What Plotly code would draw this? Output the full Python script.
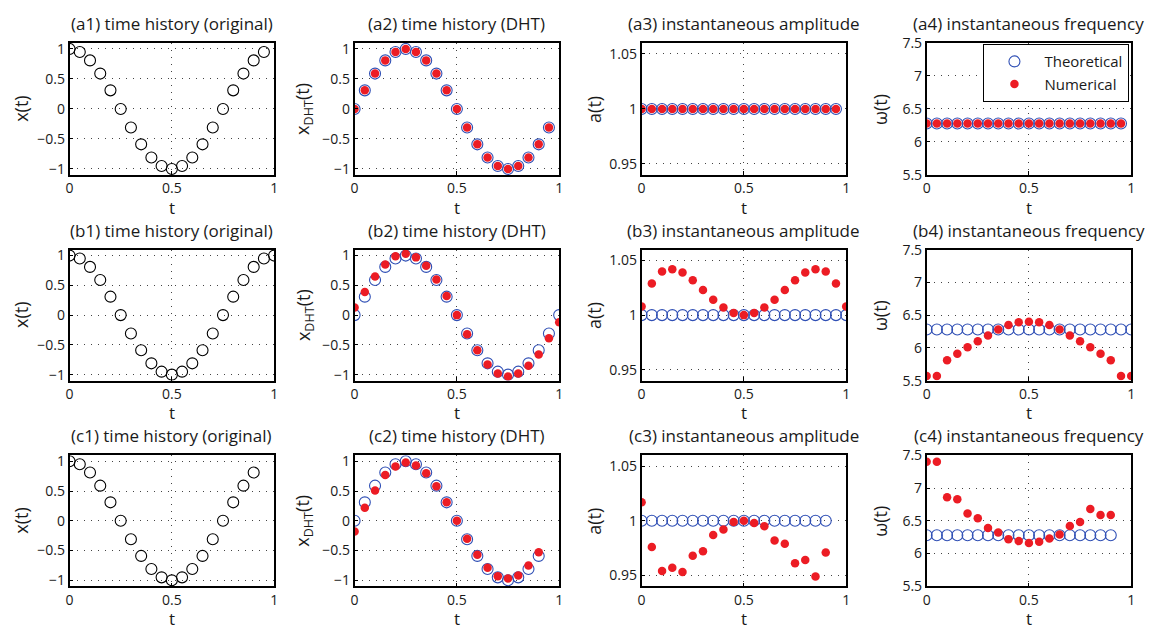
import plotly.graph_objects as go

# ---------------- data ----------------
t_a = [0, 0.05, 0.1, 0.15, 0.2, 0.25, 0.3, 0.35, 0.4, 0.45, 0.5, 0.55, 0.6, 0.65, 0.7, 0.75, 0.8, 0.85, 0.9, 0.95]
t_b = [0, 0.05, 0.1, 0.15, 0.2, 0.25, 0.3, 0.35, 0.4, 0.45, 0.5, 0.55, 0.6, 0.65, 0.7, 0.75, 0.8, 0.85, 0.9, 0.95, 1.0]
t_c = [0, 0.05, 0.1, 0.15, 0.2, 0.25, 0.3, 0.35, 0.4, 0.45, 0.5, 0.55, 0.6, 0.65, 0.7, 0.75, 0.8, 0.85, 0.9]

# original signals
x_a = [1, 0.95, 0.81, 0.59, 0.31, 0, -0.31, -0.59, -0.81, -0.95, -1, -0.95, -0.81, -0.59, -0.31, 0, 0.31, 0.59, 0.81, 0.95]
x_b = [1, 0.95, 0.81, 0.59, 0.31, 0, -0.31, -0.59, -0.81, -0.95, -1, -0.95, -0.81, -0.59, -0.31, 0, 0.31, 0.59, 0.81, 0.95, 1]
x_c = [1, 0.95, 0.81, 0.59, 0.31, 0, -0.31, -0.59, -0.81, -0.95, -1, -0.95, -0.81, -0.59, -0.31, 0, 0.31, 0.59, 0.81]

# DHT theoretical
h_a_th = [0, 0.31, 0.59, 0.81, 0.95, 1, 0.95, 0.81, 0.59, 0.31, 0, -0.31, -0.59, -0.81, -0.95, -1, -0.95, -0.81, -0.59, -0.31]
h_b_th = [0, 0.31, 0.59, 0.81, 0.95, 1, 0.95, 0.81, 0.59, 0.31, 0, -0.31, -0.59, -0.81, -0.95, -1, -0.95, -0.81, -0.59, -0.31, 0]
h_c_th = [0, 0.31, 0.59, 0.81, 0.95, 1, 0.95, 0.81, 0.59, 0.31, 0, -0.31, -0.59, -0.81, -0.95, -1, -0.95, -0.81, -0.59]
# DHT numerical
h_a_num = [0, 0.31, 0.59, 0.81, 0.95, 1, 0.95, 0.81, 0.59, 0.31, 0, -0.31, -0.59, -0.81, -0.95, -1, -0.95, -0.81, -0.59, -0.31]
h_b_num = [0.13, 0.39, 0.65, 0.85, 0.99, 1.03, 0.97, 0.83, 0.60, 0.32, 0, -0.32, -0.59, -0.83, -0.98, -1.03, -0.98, -0.85, -0.66, -0.39, -0.12]
h_c_num = [-0.18, 0.22, 0.51, 0.77, 0.91, 0.98, 0.93, 0.80, 0.58, 0.31, 0, -0.30, -0.57, -0.79, -0.93, -0.97, -0.92, -0.75, -0.53]

# instantaneous amplitude
a_a_th = [1] * 20
a_b_th = [1] * 21
a_c_th = [1] * 19
a_a_num = [1] * 20
a_b_num = [1.008, 1.029, 1.040, 1.042, 1.039, 1.032, 1.023, 1.014, 1.007, 1.002, 1.0,
           1.002, 1.007, 1.014, 1.023, 1.032, 1.039, 1.042, 1.040, 1.029, 1.008]
a_c_num = [1.017, 0.976, 0.954, 0.957, 0.953, 0.968, 0.972, 0.987, 0.992, 0.999, 1.0,
           0.998, 0.995, 0.982, 0.979, 0.961, 0.964, 0.949, 0.971]

# instantaneous frequency
w_a_th = [6.28] * 20
w_b_th = [6.28] * 21
w_c_th = [6.28] * 19
w_a_num = [6.28] * 20
w_b_num = [5.57, 5.57, 5.81, 5.91, 6.01, 6.10, 6.19, 6.28, 6.35, 6.39, 6.40,
           6.39, 6.35, 6.28, 6.19, 6.10, 6.01, 5.91, 5.81, 5.57, 5.57]
w_c_num = [7.40, 7.40, 6.86, 6.83, 6.61, 6.54, 6.39, 6.32, 6.22, 6.19, 6.16,
           6.18, 6.23, 6.29, 6.42, 6.48, 6.68, 6.59, 6.59]

row_labels = ["a", "b", "c"]
col_titles = ["time history (original)", "time history (DHT)", "instantaneous amplitude", "instantaneous frequency"]
y_titles = ["x(t)", "x<sub>DHT</sub>(t)", "a(t)", "ω(t)"]

# ---------------- layout geometry (pixels) ----------------
W, H = 1167, 637
col_px = [(66, 272), (353, 559), (642, 848), (929, 1135)]
row_px = [(34, 170), (247, 382), (459, 594)]
ylabel_x = [17, 302, 594, 882]
title_y = [14, 227, 439]
xtitle_off = [34, 33, 33]

FONT = "Open Sans"
BLUE = "#2f4fb5"
RED = "#ec1c24"
TXT = "#1a1a1a"

fig = go.Figure()

rows_data = [
    (t_a, x_a, h_a_th, h_a_num, a_a_th, a_a_num, w_a_th, w_a_num),
    (t_b, x_b, h_b_th, h_b_num, a_b_th, a_b_num, w_b_th, w_b_num),
    (t_c, x_c, h_c_th, h_c_num, a_c_th, a_c_num, w_c_th, w_c_num),
]

y_specs = [
    dict(range=[-1.1, 1.1], tickvals=[-1, -0.5, 0, 0.5, 1], ticktext=["−1", "−0.5", "0", "0.5", "1"]),
    dict(range=[-1.1, 1.1], tickvals=[-1, -0.5, 0, 0.5, 1], ticktext=["−1", "−0.5", "0", "0.5", "1"]),
    dict(range=[0.94, 1.06], tickvals=[0.95, 1, 1.05], ticktext=["0.95", "1", "1.05"]),
    dict(range=[5.5, 7.5], tickvals=[5.5, 6, 6.5, 7, 7.5], ticktext=["5.5", "6", "6.5", "7", "7.5"]),
]

annotations = []
idx = 0
for r in range(3):
    t, x, hth, hnum, ath, anum, wth, wnum = rows_data[r]
    for c in range(4):
        idx += 1
        xa = "x" if idx == 1 else f"x{idx}"
        ya = "y" if idx == 1 else f"y{idx}"
        if c == 0:
            fig.add_trace(go.Scatter(x=t, y=x, mode="markers", xaxis=xa, yaxis=ya, showlegend=False,
                                     marker=dict(symbol="circle-open", size=11, color="black", line=dict(width=1.1))))
        else:
            th, nm = [(hth, hnum), (ath, anum), (wth, wnum)][c - 1]
            show = (r == 0 and c == 3)
            fig.add_trace(go.Scatter(x=t, y=th, mode="markers", xaxis=xa, yaxis=ya, name="Theoretical",
                                     showlegend=show,
                                     marker=dict(symbol="circle-open", size=11, color=BLUE, line=dict(width=1.1))))
            fig.add_trace(go.Scatter(x=t, y=nm, mode="markers", xaxis=xa, yaxis=ya, name="Numerical",
                                     showlegend=show,
                                     marker=dict(symbol="circle", size=8.5, color=RED)))
        x0, x1 = col_px[c]
        y0, y1 = row_px[r]
        common = dict(showline=True, linecolor="black", linewidth=1.5, mirror=True,
                      showgrid=True, gridcolor="#444", griddash="1px,6px", gridwidth=1,
                      ticks="inside", ticklen=4, tickcolor="black", zeroline=False,
                      tickfont=dict(family=FONT, size=14, color=TXT))
        fig.layout[("xaxis" if idx == 1 else f"xaxis{idx}")] = dict(
            domain=[x0 / W, x1 / W], anchor=ya, range=[0, 1],
            tickvals=[0, 0.5, 1], ticktext=["0", "0.5", "1"], **common)
        fig.layout[("yaxis" if idx == 1 else f"yaxis{idx}")] = dict(
            domain=[1 - y1 / H, 1 - y0 / H], anchor=xa, **y_specs[c], **common)
        # subplot title
        annotations.append(dict(text=f"({row_labels[r]}{c + 1}) {col_titles[c]}", xref="paper", yref="paper",
                                x=(x0 + x1) / 2 / W, y=1 - title_y[r] / H, xanchor="center", yanchor="middle",
                                showarrow=False, font=dict(family=FONT, size=17, color=TXT)))
        # x title
        annotations.append(dict(text="t", xref="paper", yref="paper",
                                x=(x0 + x1) / 2 / W, y=1 - (y1 + xtitle_off[r]) / H, xanchor="center", yanchor="middle",
                                showarrow=False, font=dict(family=FONT, size=17, color=TXT)))
        # y title
        annotations.append(dict(text=y_titles[c], xref="paper", yref="paper", textangle=-90,
                                x=ylabel_x[c] / W, y=1 - (y0 + y1) / 2 / H, xanchor="center", yanchor="middle",
                                showarrow=False, font=dict(family=FONT, size=18, color=TXT)))

fig.update_layout(
    width=W, height=H, margin=dict(l=0, r=0, t=0, b=0),
    paper_bgcolor="white", plot_bgcolor="white",
    annotations=annotations,
    legend=dict(x=986 / W, y=1 - 35 / H, xanchor="left", yanchor="top",
                bordercolor="black", borderwidth=1.2, bgcolor="white",
                font=dict(family=FONT, size=15, color=TXT), itemwidth=50, tracegroupgap=0),
)

fig.write_html("out.html")
